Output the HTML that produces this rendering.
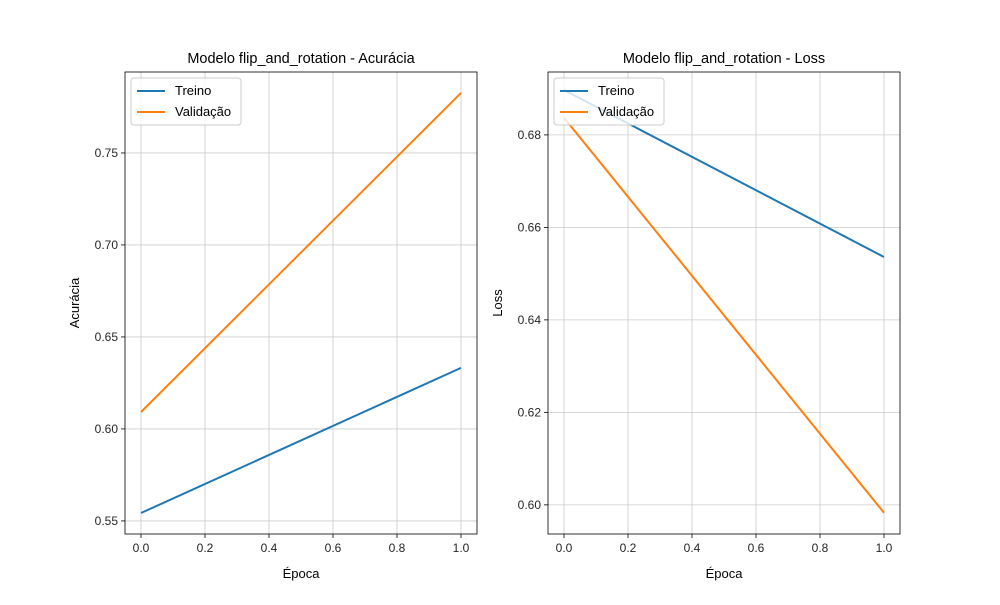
<!DOCTYPE html>
<html><head><meta charset="utf-8"><style>
body{margin:0;background:#fff;font-family:"Liberation Sans","DejaVu Sans",sans-serif}
svg text{font-family:"Liberation Sans","DejaVu Sans",sans-serif}
</style></head><body>
<svg id="fig" width="1000" height="600" viewBox="0 0 1000 600" xmlns="http://www.w3.org/2000/svg"></svg>
<script>
const epochs=[0,1];
const accTrain=[0.5543,0.6332];
const accVal=[0.6092,0.7826];
const lossTrain=[0.6897,0.6536];
const lossVal=[0.6837,0.5983];
const accTicks=[0.55,0.60,0.65,0.70,0.75];
const lossTicks=[0.60,0.62,0.64,0.66,0.68];
const xTicks=[0,0.2,0.4,0.6,0.8,1.0];
const NS='http://www.w3.org/2000/svg';
const svg=document.getElementById('fig');
function mk(t,a,p){const e=document.createElementNS(NS,t);for(const k in a)e.setAttribute(k,a[k]);(p||svg).appendChild(e);return e;}
function panel(o){
  const g=mk('g',{});
  
  
  const L=o.x0,R=o.x1,T=72,B=534;
  const sx=v=>L+(v+0.05)/1.1*(R-L);
  const sy=v=>B-(v-o.ymin)/(o.ymax-o.ymin)*(B-T);
  xTicks.forEach(v=>{
    const l=mk('line',{x1:sx(v),x2:sx(v),y1:T,y2:B,stroke:'#cccccc','stroke-width':0.8},g);
    
    mk('line',{x1:sx(v),x2:sx(v),y1:B,y2:B+4,stroke:'#000','stroke-width':0.8},g);
    const t=mk('text',{x:sx(v),y:B+18,'text-anchor':'middle','font-size':12,fill:'#262626'},g);
    t.textContent=v.toFixed(1);
    
  });
  o.ticks.forEach(v=>{
    const l=mk('line',{x1:L,x2:R,y1:sy(v),y2:sy(v),stroke:'#cccccc','stroke-width':0.8},g);
    
    mk('line',{x1:L-4,x2:L,y1:sy(v),y2:sy(v),stroke:'#000','stroke-width':0.8},g);
    const t=mk('text',{x:L-7,y:sy(v)+4,'text-anchor':'end','font-size':12,fill:'#262626'},g);
    t.textContent=v.toFixed(2);
    
  });
  const fr=mk('rect',{x:L,y:T,width:R-L,height:B-T,fill:'none',stroke:'#000','stroke-width':0.8},g);
  
  [[o.train,'#1f77b4','train-line'],[o.val,'#ff7f0e','validation-line']].forEach(([d,c,n])=>{
    const p=mk('polyline',{points:epochs.map((e,i)=>sx(e)+','+sy(d[i])).join(' '),fill:'none',stroke:c,'stroke-width':2},g);
    
  });
  const tt=mk('text',{x:(L+R)/2,y:T-9,'text-anchor':'middle','font-size':14.5,fill:'#000'},g);
  tt.textContent=o.title;
  const xl=mk('text',{x:(L+R)/2,y:B+44,'text-anchor':'middle','font-size':13,fill:'#000'},g);
  xl.textContent='Época';
  const yx=L-o.ylOff;
  const yl=mk('text',{x:yx,y:(T+B)/2,'text-anchor':'middle','font-size':13,fill:'#000',transform:`rotate(-90 ${yx} ${(T+B)/2})`},g);
  yl.textContent=o.ylabel;
  const lg=mk('g',{},g);
  mk('rect',{x:L+6,y:T+6,width:110,height:47,rx:3,fill:'#fff','fill-opacity':0.8,stroke:'#cccccc'},lg);
  [['Treino','#1f77b4'],['Validação','#ff7f0e']].forEach(([n,c],i)=>{
    const y=T+19+i*21;
    mk('line',{x1:L+12,x2:L+40,y1:y,y2:y,stroke:c,'stroke-width':2},lg);
    const t=mk('text',{x:L+50,y:y+4,'font-size':13,fill:'#000'},lg);t.textContent=n;
    
  });
}
panel({name:'accuracy-chart',x0:125,x1:477,ymin:0.5429,ymax:0.794,ticks:accTicks,train:accTrain,val:accVal,title:'Modelo flip_and_rotation - Acurácia',ylabel:'Acurácia',ylOff:46});
panel({name:'loss-chart',x0:548,x1:900,ymin:0.5937,ymax:0.6936,ticks:lossTicks,train:lossTrain,val:lossVal,title:'Modelo flip_and_rotation - Loss',ylabel:'Loss',ylOff:46});
</script>
</body></html>
